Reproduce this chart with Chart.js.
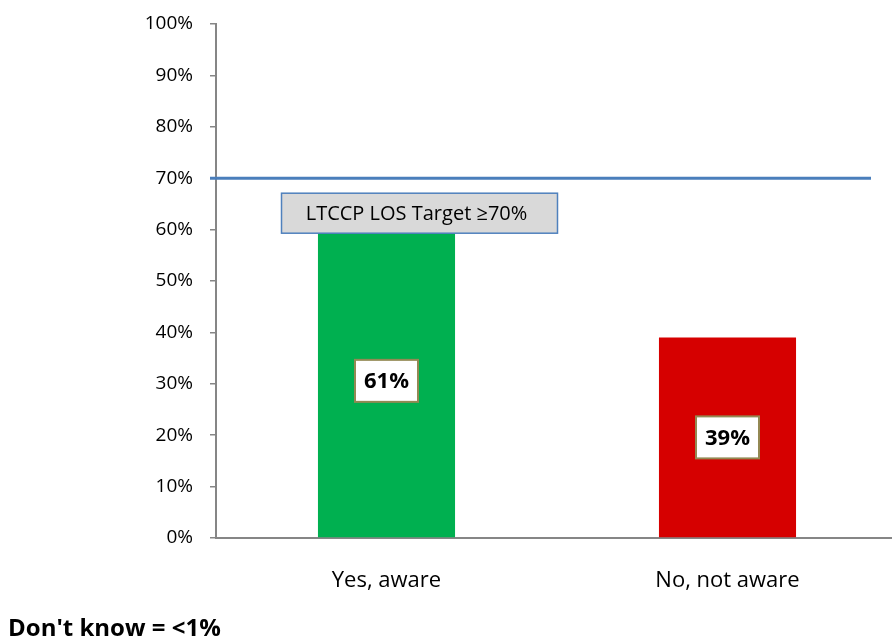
<!DOCTYPE html>
<html>
<head>
<meta charset="utf-8">
<script src="https://cdn.jsdelivr.net/npm/chart.js@4"></script>
<style>
  html, body { margin: 0; padding: 0; background: #fff; overflow: hidden; }
  #wrap { width: 892px; height: 641px; overflow: hidden; }
</style>
</head>
<body>
<div id="wrap"><canvas id="awareChart" width="898" height="641"></canvas></div>
<script>
// chart data
const categories = ["Yes, aware", "No, not aware"];
const percentValues = [61, 39];
const barColors = ["#00B050", "#D60000"];
const yTicks = [0, 10, 20, 30, 40, 50, 60, 70, 80, 90, 100];
const targetValue = 70;
const targetLabel = "LTCCP LOS Target \u226570%";
const footNote = "Don't know = <1%";

const FONT = "'Open Sans', 'Noto Sans', sans-serif";
const AXIS_GRAY = "#868686";

// draws the target line, its label box, the value boxes and the footnote
const overlayPlugin = {
  id: "overlay",
  afterDatasetsDraw(chart) {
    const { ctx, chartArea, scales } = chart;
    const yT = scales.y.getPixelForValue(targetValue);

    // target line
    ctx.save();
    ctx.strokeStyle = "#4A7EBB";
    ctx.lineWidth = 3;
    ctx.beginPath();
    ctx.moveTo(chartArea.left - 6, yT);
    ctx.lineTo(871, yT);
    ctx.stroke();

    // target label box
    const firstBar = chart.getDatasetMeta(0).data[0];
    const bx = firstBar.x - 105, by = yT + 15, bw = 276, bh = 40;
    ctx.fillStyle = "#D9D9D9";
    ctx.fillRect(bx, by, bw, bh);
    ctx.strokeStyle = "#4F81BD";
    ctx.lineWidth = 1.5;
    ctx.strokeRect(bx, by, bw, bh);
    ctx.fillStyle = "#000";
    ctx.font = "20px " + FONT;
    ctx.textAlign = "center";
    ctx.textBaseline = "middle";
    ctx.fillText(targetLabel, bx + bw / 2 - 3, by + bh / 2 + 1);

    // value boxes
    chart.getDatasetMeta(0).data.forEach((bar, i) => {
      const cy = (bar.y + bar.base) / 2;
      const w = 63, h = 42;
      ctx.fillStyle = "#fff";
      ctx.fillRect(bar.x - w / 2, cy - h / 2, w, h);
      ctx.strokeStyle = "#938953";
      ctx.lineWidth = 2;
      ctx.strokeRect(bar.x - w / 2, cy - h / 2, w, h);
      ctx.fillStyle = "#000";
      ctx.font = "bold 22px " + FONT;
      ctx.fillText(percentValues[i] + "%", bar.x, cy + 1);
    });

    // footnote
    ctx.textAlign = "left";
    ctx.font = "bold 24px " + FONT;
    ctx.fillText(footNote, 8, 629);
    ctx.restore();
  },
};

new Chart(document.getElementById("awareChart").getContext("2d"), {
  type: "bar",
  data: {
    labels: categories,
    datasets: [
      {
        data: percentValues,
        backgroundColor: barColors,
        borderWidth: 0,
        categoryPercentage: 1,
        barPercentage: 0.402,
      },
    ],
  },
  options: {
    responsive: false,
    animation: false,
    layout: { padding: { top: 24, left: 0, right: 0, bottom: 0 } },
    plugins: {
      legend: { display: false },
      tooltip: { enabled: false },
    },
    scales: {
      x: {
        grid: { display: false, drawTicks: false },
        border: { display: true, color: AXIS_GRAY, width: 2 },
        ticks: { color: "#000", font: { family: FONT, size: 22 }, padding: 30 },
        afterFit: (scale) => { scale.height = 103; scale.paddingRight = 0; scale.paddingLeft = 0; },
      },
      y: {
        min: 0,
        max: 100,
        afterBuildTicks: (scale) => { scale.ticks = yTicks.map((v) => ({ value: v })); },
        grid: { display: true, drawOnChartArea: false, drawTicks: true, tickLength: 6, color: AXIS_GRAY, lineWidth: 1.5 },
        border: { display: true, color: AXIS_GRAY, width: 2 },
        ticks: {
          color: "#000",
          font: { family: FONT, size: 19 },
          padding: 17,
          callback: (v) => v + "%",
        },
        afterFit: (scale) => { scale.width = 216; scale.paddingTop = 0; scale.paddingBottom = 0; },
      },
    },
  },
  plugins: [overlayPlugin],
});
</script>
</body>
</html>
